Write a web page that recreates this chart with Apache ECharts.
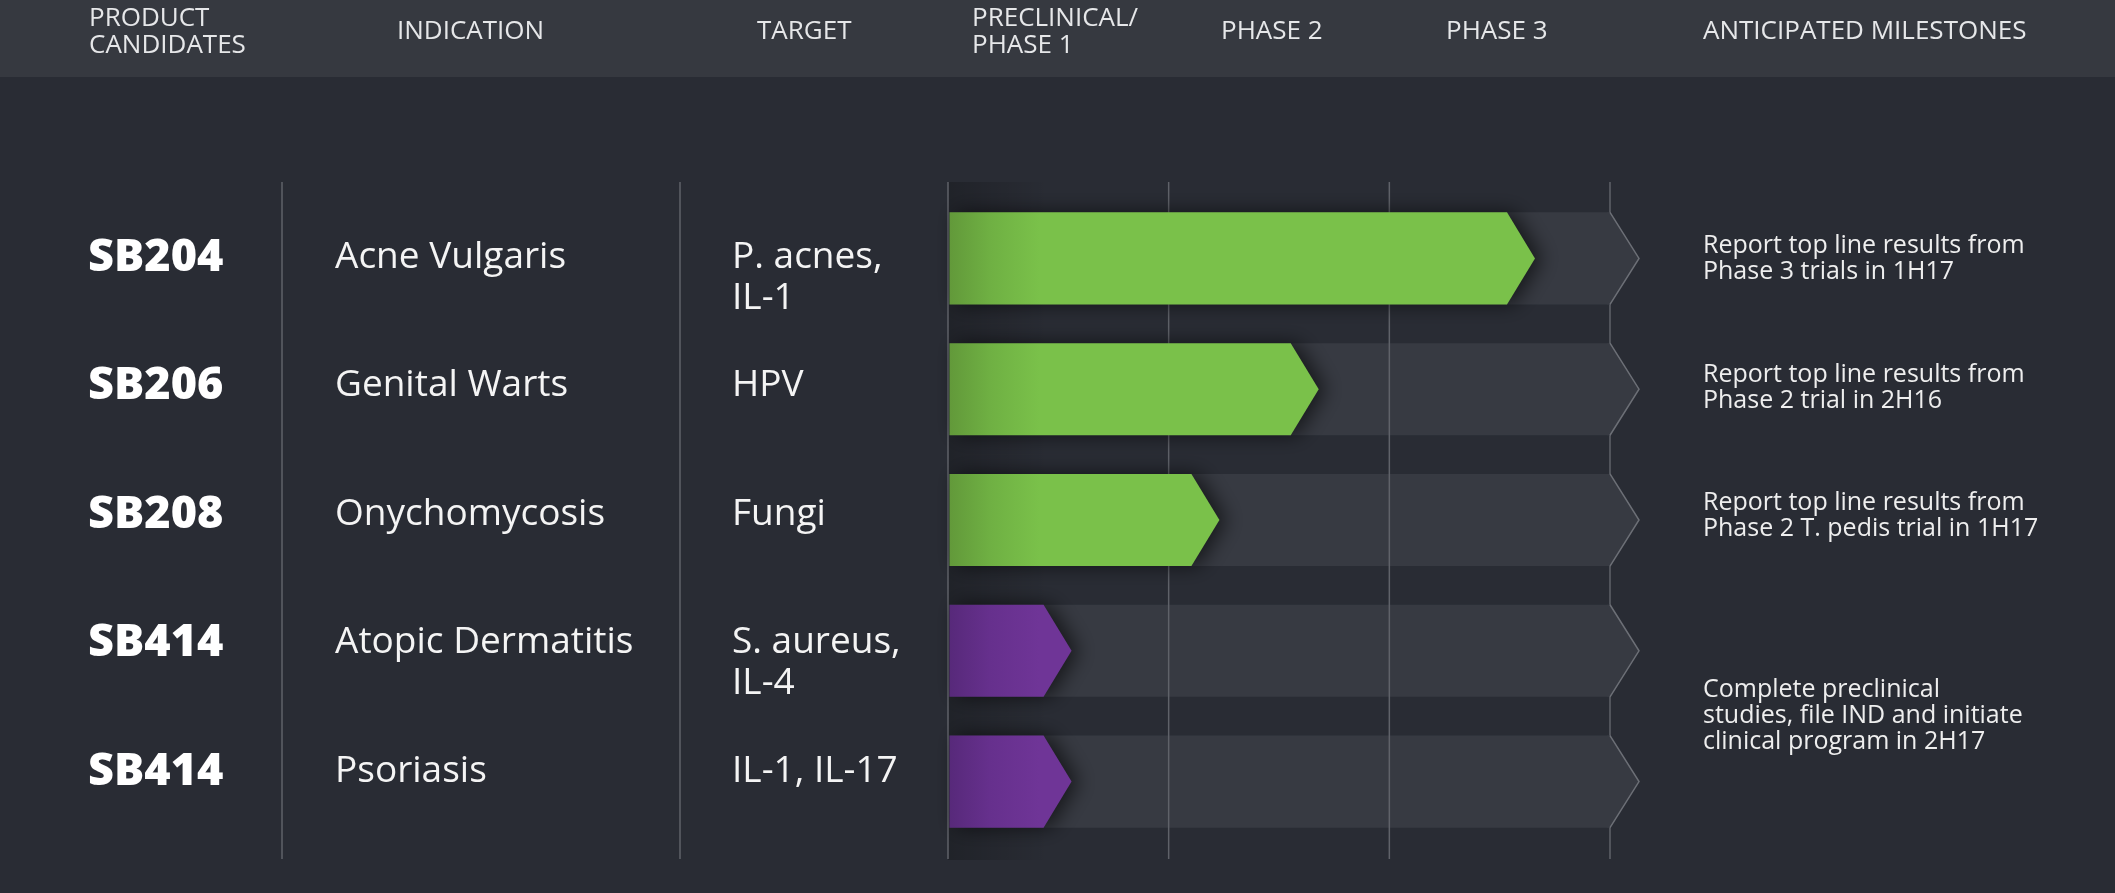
<!DOCTYPE html>
<html>
<head>
<meta charset="utf-8">
<title>Pipeline</title>
<script src="https://cdn.jsdelivr.net/npm/echarts@6/dist/echarts.min.js"></script>
<style>
  html, body { margin: 0; padding: 0; background: #292c34; }
  #chart { width: 2115px; height: 893px; }
</style>
</head>
<body>
<div id="chart"></div>
<script>
// table data
var products = ['SB204', 'SB206', 'SB208', 'SB414', 'SB414'];
var indications = ['Acne Vulgaris', 'Genital Warts', 'Onychomycosis', 'Atopic Dermatitis', 'Psoriasis'];
var targets = ['P. acnes,\nIL-1', 'HPV', 'Fungi', 'S. aureus,\nIL-4', 'IL-1, IL-17'];
var stages = ['clinical', 'clinical', 'clinical', 'preclinical', 'preclinical'];
// progress measured in phases (0 = start of preclinical, 3 = end of phase 3)
var progress = [2.66, 1.68, 1.23, 0.56, 0.56];
var phases = ['PRECLINICAL/\nPHASE 1', 'PHASE 2', 'PHASE 3'];
var phaseEdges = [0, 1, 2, 3];
var milestones = [
  'Report top line results from\nPhase 3 trials in 1H17',
  'Report top line results from\nPhase 2 trial in 2H16',
  'Report top line results from\nPhase 2 T. pedis trial in 1H17',
  'Complete preclinical\nstudies, file IND and initiate\nclinical program in 2H17'
];
var milestoneRows = [[0, 0], [1, 1], [2, 2], [3, 4]];

var trackColor = '#373a42';
var lineColor = '#5f6269';
var stageColors = {
  clinical: ['#62993a', '#6fb043', '#7ac14a'],
  preclinical: ['#57297a', '#66308d', '#6f3597']
};
var FONT = '"Open Sans", "Noto Sans", sans-serif';

var chart = echarts.init(document.getElementById('chart'), null, { renderer: 'canvas' });

function rowBox(api, row) {
  var c = api.coord([0, row]);
  var h = api.size([0, 1])[1] * 0.704;
  return { top: c[1] - h / 2, bot: c[1] + h / 2, mid: c[1] };
}

function renderTrack(params, api) {
  var row = api.value(1);
  var b = rowBox(api, row);
  var s = api.coord([0, row])[0];
  var e = api.coord([phases.length, row])[0];
  return {
    type: 'polygon',
    shape: { points: [[s, b.top], [e, b.top], [e + 29, b.mid], [e, b.bot], [s, b.bot]] },
    style: { fill: trackColor }
  };
}

function renderPhaseLine(params, api) {
  var cs = params.coordSys;
  var x = api.coord([api.value(0), 0])[0];
  var kids = [];
  if (params.dataIndex === 0) {
    kids.push({
      type: 'rect',
      shape: { x: x, y: cs.y - 11, width: 100, height: cs.height + 24 },
      style: {
        fill: new echarts.graphic.LinearGradient(0, 0, 1, 0, [
          { offset: 0, color: 'rgba(0,0,0,0.22)' },
          { offset: 1, color: 'rgba(0,0,0,0)' }
        ])
      }
    });
  }
  kids.push({
    type: 'line',
    shape: { x1: x, y1: cs.y - 11, x2: x, y2: cs.y + cs.height + 12 },
    style: { stroke: lineColor, lineWidth: 1.5 }
  });
  return { type: 'group', children: kids };
}

function renderBar(params, api) {
  var row = api.value(1);
  var b = rowBox(api, row);
  var x0 = api.coord([0, row])[0] + 1.5;
  var tip = api.coord([api.value(0), row])[0];
  var neck = tip - 28;
  var e = api.coord([phases.length, row])[0];
  var cols = stageColors[stages[row]];
  var grad = new echarts.graphic.LinearGradient(x0, 0, x0 + 90, 0, [
    { offset: 0, color: cols[0] },
    { offset: 0.45, color: cols[1] },
    { offset: 1, color: cols[2] }
  ], true);
  return {
    type: 'group',
    children: [
      // cap of the track, hides the last phase line inside the row
      {
        type: 'polygon',
        shape: { points: [[e - 3, b.top], [e, b.top], [e + 29, b.mid], [e, b.bot], [e - 3, b.bot]] },
        style: { fill: trackColor }
      },
      {
        type: 'polyline',
        shape: { points: [[e, b.top], [e + 29, b.mid], [e, b.bot]] },
        style: { stroke: '#6c6f76', lineWidth: 1.5, fill: 'none' }
      },
      {
        type: 'polygon',
        shape: { points: [[x0, b.top], [neck, b.top], [tip, b.mid], [neck, b.bot], [x0, b.bot]] },
        style: { fill: grad, shadowBlur: 20, shadowColor: 'rgba(0,0,0,0.6)', shadowOffsetX: 7 }
      }
    ]
  };
}

function renderRowText(params, api) {
  var row = api.value(1);
  var y = api.coord([0, row])[1];
  return {
    type: 'group',
    children: [
      {
        type: 'text',
        style: { text: products[row], x: 88, y: y + 1, fill: '#ffffff', font: '800 45px ' + FONT, verticalAlign: 'middle' }
      },
      {
        type: 'text',
        style: { text: indications[row], x: 335, y: y, fill: '#f4f4f4', font: '37px ' + FONT, verticalAlign: 'middle' }
      },
      {
        type: 'text',
        style: { text: targets[row], x: 732, y: y - 20.5, fill: '#f4f4f4', font: '37px ' + FONT, lineHeight: 41, verticalAlign: 'top' }
      }
    ]
  };
}

function renderMilestone(params, api) {
  var i = params.dataIndex;
  var y1 = api.coord([0, api.value(1)])[1];
  var y2 = api.coord([0, api.value(2)])[1];
  var shift = api.value(2) > api.value(1) ? 9 : 2;
  return {
    type: 'text',
    style: {
      text: milestones[i], x: 1703, y: (y1 + y2) / 2 + shift,
      fill: '#eeeeee', font: '25px ' + FONT, lineHeight: 26, verticalAlign: 'middle'
    }
  };
}

var headerItems = [
  { text: 'PRODUCT\nCANDIDATES', x: 89 },
  { text: 'INDICATION', x: 397 },
  { text: 'TARGET', x: 757 },
  { text: phases[0], x: 972 },
  { text: phases[1], x: 1221 },
  { text: phases[2], x: 1446 },
  { text: 'ANTICIPATED MILESTONES', x: 1703 }
];

var graphics = [
  { type: 'rect', shape: { x: 0, y: 0, width: 2115, height: 77 }, style: { fill: '#363940' }, silent: true },
  { type: 'line', shape: { x1: 282, y1: 182, x2: 282, y2: 859 }, style: { stroke: lineColor, lineWidth: 1.5 } },
  { type: 'line', shape: { x1: 680, y1: 182, x2: 680, y2: 859 }, style: { stroke: lineColor, lineWidth: 1.5 } }
];
headerItems.forEach(function (h) {
  graphics.push({
    type: 'text',
    style: { text: h.text, x: h.x, y: 32, fill: '#e6e7e9', font: '26px ' + FONT, lineHeight: 27, verticalAlign: 'middle' }
  });
});

var rowIdx = products.map(function (p, i) { return [0, i]; });

var option = {
  backgroundColor: '#292c34',
  animation: false,
  graphic: graphics,
  grid: [
    { left: 948, width: 662, top: 193, height: 654 },
    { left: 0, right: 0, top: 192.75, height: 642.5 }
  ],
  xAxis: [
    { type: 'value', gridIndex: 0, min: 0, max: phases.length, show: false },
    { type: 'value', gridIndex: 1, min: 0, max: 1, show: false }
  ],
  yAxis: [
    { type: 'category', gridIndex: 0, data: products, inverse: true, show: false },
    { type: 'category', gridIndex: 1, data: products, inverse: true, show: false }
  ],
  series: [
    {
      type: 'custom', name: 'track', z: 1, clip: false, silent: true,
      renderItem: renderTrack,
      data: progress.map(function (v, i) { return [v, i]; })
    },
    {
      type: 'custom', name: 'phase lines', z: 2, clip: false, silent: true,
      renderItem: renderPhaseLine,
      data: phaseEdges.map(function (e) { return [e, 0]; })
    },
    {
      type: 'custom', name: 'progress', z: 3, clip: false, silent: true,
      renderItem: renderBar,
      data: progress.map(function (v, i) { return [v, i]; })
    },
    {
      type: 'custom', name: 'table', xAxisIndex: 1, yAxisIndex: 1, z: 4, clip: false, silent: true,
      renderItem: renderRowText,
      data: rowIdx
    },
    {
      type: 'custom', name: 'milestones', xAxisIndex: 1, yAxisIndex: 1, z: 4, clip: false, silent: true,
      renderItem: renderMilestone,
      data: milestoneRows.map(function (r) { return [0, r[0], r[1]]; })
    }
  ]
};

chart.setOption(option);
</script>
</body>
</html>
